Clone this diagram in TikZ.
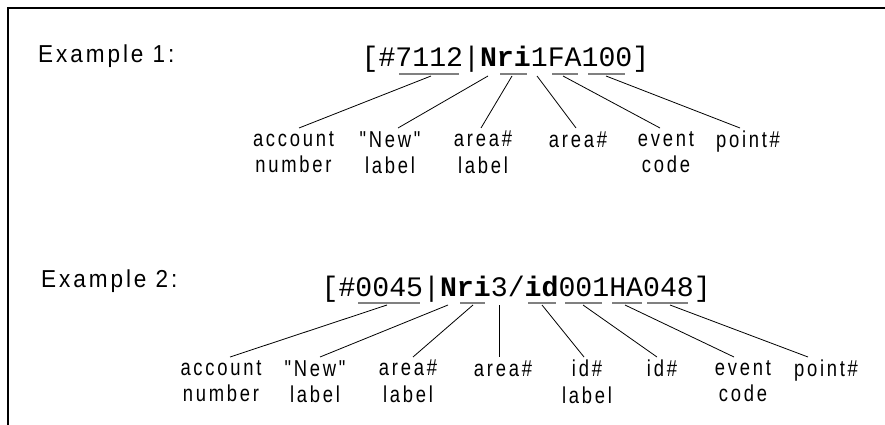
\documentclass[tikz,border=0pt]{standalone}
\usepackage{fontspec}
\setmainfont{Liberation Sans}
\newfontfamily\lblfont[FakeStretch=0.8,LetterSpace=12]{Liberation Sans}
\newfontfamily\exfont[FakeStretch=0.92,LetterSpace=12]{Liberation Sans}
\newfontfamily\codefont{Liberation Mono}
\begin{document}
\begin{tikzpicture}[x=1pt,y=-1pt,
  lbl/.style={font=\lblfont\fontsize{23}{26.5}\selectfont, align=center,
    anchor=north, inner xsep=0pt, inner ysep=3pt,
    execute at begin node={\vphantom{N}}},
  conn/.style={line width=0.8pt, draw=black},
  uline/.style={line width=2pt, draw=black!50},
  code/.style={font=\codefont\fontsize{28.2}{30}\selectfont, anchor=base west, inner sep=0pt},
  extitle/.style={font=\exfont\fontsize{24.5}{28}\selectfont, anchor=base west, inner sep=0pt}]

\useasboundingbox (0,0) rectangle (885,425);
% frame edges
\draw[line width=1.6pt] (8,425) -- (8,8) -- (885,8);

% ---------------- first example ----------------
\node[extitle] (ex1) at (38,63) {Example 1:};
\node[code] (c1) at (361.4,67) {[\#7112|{\bfseries Nri}1FA100]};

\draw[uline] (399,74) -- (459,74);
\draw[uline] (500,74) -- (527,74);
\draw[uline] (552,74) -- (578,74);
\draw[uline] (588,74) -- (625,74);

\coordinate (s1a) at (431,76);
\coordinate (s1b) at (488,76);
\coordinate (s1c) at (512,76);
\coordinate (s1d) at (537,76);
\coordinate (s1e) at (563,76);
\coordinate (s1f) at (606,76);

\node[lbl] (l1a) at (293.5,128) {account\\number};
\node[lbl] (l1b) at (390,128) {"New"\\label};
\node[lbl] (l1c) at (483,128) {area\#\\label};
\node[lbl] (l1d) at (578,128) {area\#};
\node[lbl] (l1e) at (666,128) {event\\code};
\node[lbl] (l1f) at (748,128) {point\#};

\draw[conn] (s1a) -- ([xshift=5.5pt]l1a.north);
\draw[conn] (s1b) -- ([xshift=8pt]l1b.north);
\draw[conn] (s1c) -- ([xshift=-2pt]l1c.north);
\draw[conn] (s1d) -- ([xshift=-2pt]l1d.north);
\draw[conn] (s1e) -- ([xshift=-6pt]l1e.north);
\draw[conn] (s1f) -- ([xshift=-8pt]l1f.north);

% ---------------- second example ----------------
\node[extitle] (ex2) at (41,287) {Example 2:};
\node[code] (c2) at (321.4,296) {[\#0045|{\bfseries Nri}3/{\bfseries id}001HA048]};

\draw[uline] (358,303) -- (420,303);
\draw[uline] (460,303) -- (485,303);
\draw[uline] (528,303) -- (556,303);
\draw[uline] (565,303) -- (602,303);
\draw[uline] (612,303) -- (642,303);
\draw[uline] (647,303) -- (688,303);

\coordinate (s2a) at (387,305);
\coordinate (s2b) at (448,305);
\coordinate (s2c) at (473,305);
\coordinate (s2d) at (499,305);
\coordinate (s2e) at (542,305);
\coordinate (s2f) at (583,305);
\coordinate (s2g) at (625,305);
\coordinate (s2h) at (670,305);

\node[lbl] (l2a) at (221,357) {account\\number};
\node[lbl] (l2b) at (315,357) {"New"\\label};
\node[lbl] (l2c) at (408,357) {area\#\\label};
\node[lbl] (l2d) at (503,357) {area\#};
\node[lbl] (l2e) at (587,357) {id\#\\label};
\node[lbl] (l2f) at (662,357) {id\#};
\node[lbl] (l2g) at (743,357) {event\\code};
\node[lbl] (l2h) at (826,357) {point\#};

\draw[conn] (s2a) -- ([xshift=9pt]l2a.north);
\draw[conn] (s2b) -- ([xshift=5pt]l2b.north);
\draw[conn] (s2c) -- ([xshift=5pt]l2c.north);
\draw[conn] (s2d) -- ([xshift=-4pt]l2d.north);
\draw[conn] (s2e) -- ([xshift=-3pt]l2e.north);
\draw[conn] (s2f) -- ([xshift=-5pt]l2f.north);
\draw[conn] (s2g) -- ([xshift=-9pt]l2g.north);
\draw[conn] (s2h) -- ([xshift=-18pt]l2h.north);
\end{tikzpicture}
\end{document}
